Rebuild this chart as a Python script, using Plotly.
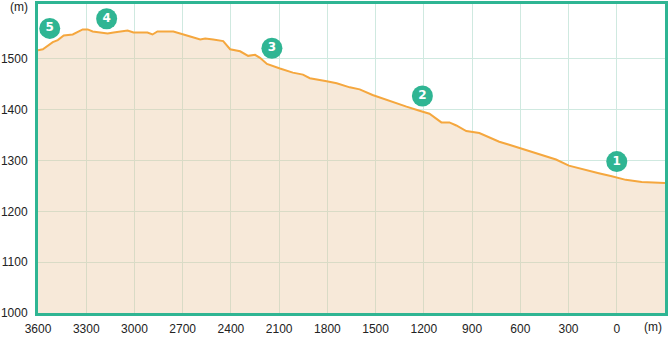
import plotly.graph_objects as go

# Elevation profile (distance in m, elevation in m)
distance = [3600, 3570, 3508, 3477, 3440, 3384, 3322, 3291, 3260, 3167, 3130, 3043, 3006,
            2919, 2888, 2857, 2758, 2702, 2653, 2591, 2560, 2510, 2448, 2405, 2343, 2293,
            2250, 2219, 2176, 2095, 2015, 1952, 1909, 1804, 1742, 1661, 1599, 1519, 1432,
            1308, 1227, 1165, 1091, 1041, 998, 936, 855, 793, 731, 669, 589, 527, 440, 378,
            298, 217, 112, 31, -56, -155, -300]
elevation = [1517, 1519, 1533, 1537, 1546, 1548, 1558, 1558, 1554, 1550, 1552, 1556, 1552,
             1552, 1548, 1554, 1554, 1548, 1544, 1538, 1540, 1538, 1535, 1519, 1515, 1506,
             1508, 1502, 1490, 1481, 1473, 1469, 1462, 1456, 1452, 1444, 1440, 1429, 1419,
             1406, 1398, 1392, 1375, 1375, 1369, 1358, 1354, 1346, 1337, 1331, 1323, 1317,
             1308, 1302, 1290, 1283, 1275, 1269, 1262, 1258, 1256]

# Numbered waypoints
point_labels = ["1", "2", "3", "4", "5"]
point_x = [0, 1209, 2145, 3173, 3527]
point_y = [1298, 1427, 1521, 1579, 1560]

x_ticks = [3600, 3300, 3000, 2700, 2400, 2100, 1800, 1500, 1200, 900, 600, 300, 0]
y_ticks = [1000, 1100, 1200, 1300, 1400, 1500]

TEAL = "#2fb593"
ORANGE = "#f5a73e"
FILL = "rgba(234,197,155,0.38)"
GRID = "#cfe9e0"
FONT = "Liberation Sans, Arial, sans-serif"

fig = go.Figure()
fig.add_trace(go.Scatter(
    x=distance, y=elevation, mode="lines", fill="tozeroy",
    fillcolor=FILL, line=dict(color=ORANGE, width=2), hoverinfo="skip"))
fig.add_trace(go.Scatter(
    x=point_x, y=point_y, mode="markers+text", text=point_labels,
    textposition="middle center",
    marker=dict(size=21, color=TEAL, line=dict(width=0)),
    textfont=dict(color="white", size=12, family="Arial Black, DejaVu Sans, sans-serif", weight="bold"),
    hoverinfo="skip"))

fig.update_layout(
    width=669, height=337, margin=dict(l=35, r=3, t=1, b=20),
    paper_bgcolor="white", plot_bgcolor="white", showlegend=False,
    font=dict(family=FONT, size=12, color="#222"),
    xaxis=dict(range=[3600, -300], tickvals=x_ticks, ticktext=[str(v) for v in x_ticks],
               showgrid=True, gridcolor=GRID, gridwidth=1, zeroline=False,
               showline=True, linecolor=TEAL, linewidth=3, mirror=True,
               ticks="", ticklabelstandoff=3, tickfont=dict(size=12)),
    yaxis=dict(range=[1000, 1608], tickvals=y_ticks, ticktext=[str(v) for v in y_ticks],
               showgrid=True, gridcolor=GRID, gridwidth=1, zeroline=False,
               showline=True, linecolor=TEAL, linewidth=3, mirror=True,
               ticks="", ticklabelstandoff=5, tickfont=dict(size=12)),
    annotations=[
        dict(text="(m)", xref="paper", yref="paper", x=-0.012, y=0.99, xanchor="right",
             yanchor="middle", showarrow=False, font=dict(size=12, color="#222")),
        dict(text="(m)", xref="paper", yref="paper", x=0.998, y=-0.046, xanchor="right",
             yanchor="middle", showarrow=False, font=dict(size=12, color="#222")),
    ],
)

fig.write_html("out.html")
